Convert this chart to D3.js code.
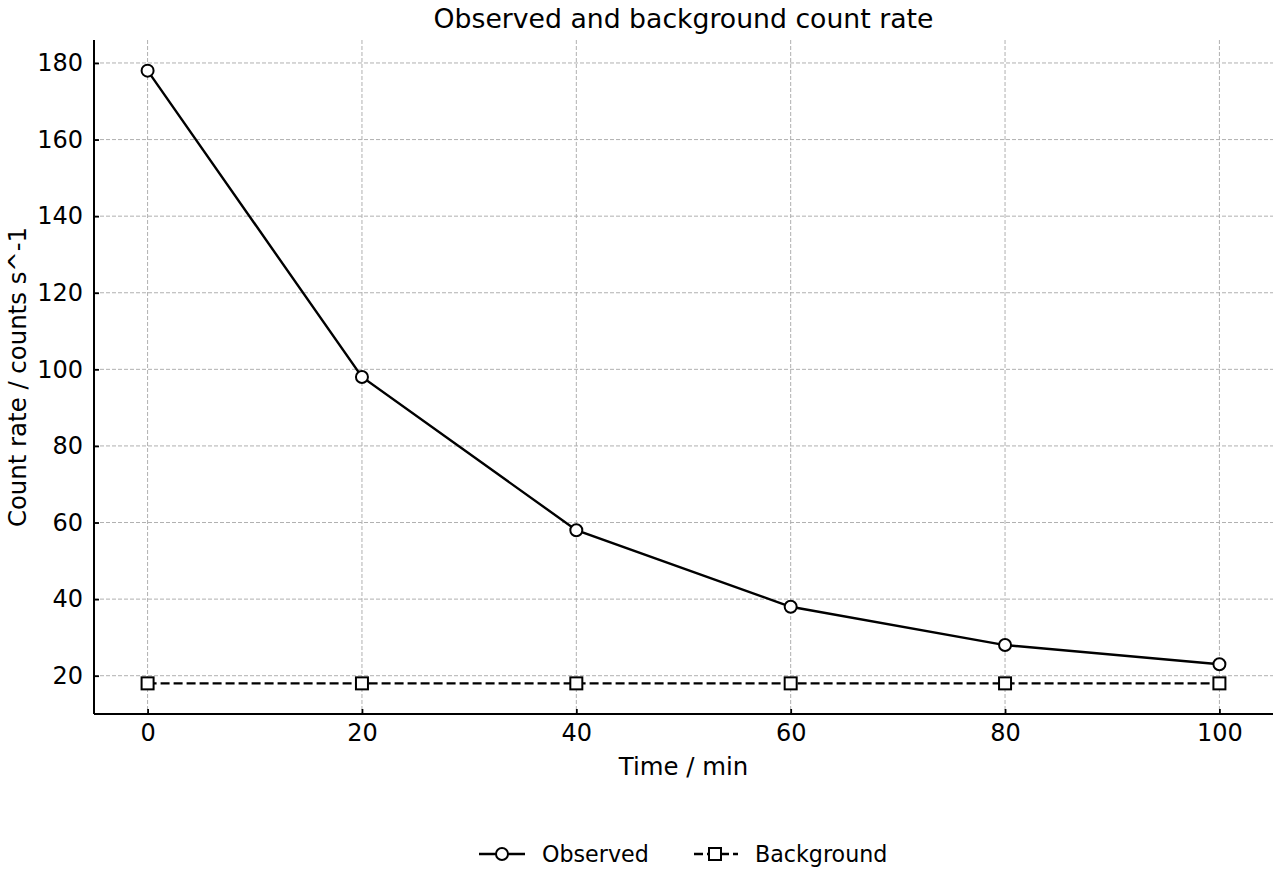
<!DOCTYPE html>
<html><head><meta charset="utf-8">
<script src="https://cdn.jsdelivr.net/npm/d3@7"></script>
<style>body{margin:0;background:#fff;} text{font-family:"DejaVu Sans",sans-serif;fill:#000;}</style>
</head><body>
<svg id="c" width="1280" height="880"></svg>
<script>
const times = [0, 20, 40, 60, 80, 100];
const observed = [178, 98, 58, 38, 28, 23];
const background = [18, 18, 18, 18, 18, 18];
const xTicks = [0, 20, 40, 60, 80, 100];
const yTicks = [20, 40, 60, 80, 100, 120, 140, 160, 180];
const seriesNames = ["Observed", "Background"];

const svg = d3.select("#c");
const L = 94, R = 1273, T = 40, B = 714;
const x = d3.scaleLinear().domain([-5, 105]).range([L, R]);
const y = d3.scaleLinear().domain([10, 186]).range([B, T]);
const tickFs = 24, labelFs = 24.4, titleFs = 26.7, legFs = 22.2;
const lw = 2.4, mw = 2, mr = 6, ms = 12;

// grid
const g = svg.append("g");
g.selectAll(".gx").data(xTicks).enter().append("line")
  .attr("x1", d => x(d)).attr("x2", d => x(d)).attr("y1", T).attr("y2", B)
  .attr("stroke", "#b0b0b0").attr("stroke-width", 1).attr("stroke-dasharray", "4,2");
g.selectAll(".gy").data(yTicks).enter().append("line")
  .attr("y1", d => y(d)).attr("y2", d => y(d)).attr("x1", L).attr("x2", R)
  .attr("stroke", "#b0b0b0").attr("stroke-width", 1).attr("stroke-dasharray", "4,2");

// axes
const xAxis = d3.axisBottom(x).tickValues(xTicks).tickSizeInner(-5).tickSizeOuter(0).tickPadding(10);
const yAxis = d3.axisLeft(y).tickValues(yTicks).tickSizeInner(-5).tickSizeOuter(0).tickPadding(11);
const gx = svg.append("g").attr("transform", `translate(0,${B})`).call(xAxis);
const gy = svg.append("g").attr("transform", `translate(${L},0)`).call(yAxis);
[gx, gy].forEach(a => {
  a.select(".domain").attr("stroke", "#000").attr("stroke-width", 2);
  a.selectAll(".tick line").attr("stroke", "#000").attr("stroke-width", 1.8);
  a.selectAll(".tick text").style("font-size", tickFs + "px").style("font-family", "DejaVu Sans").attr("fill", "#000");
});
gx.select(".domain").attr("d", `M${L},0H${R}`);
gy.select(".domain").attr("d", `M0,${T}V${B}`);

// lines
const line = d3.line().x(d => x(d[0])).y(d => y(d[1]));
const obs = times.map((t, i) => [t, observed[i]]);
const bg = times.map((t, i) => [t, background[i]]);
svg.append("path").datum(obs).attr("d", line).attr("fill", "none").attr("stroke", "#000").attr("stroke-width", lw);
svg.append("path").datum(bg).attr("d", line).attr("fill", "none").attr("stroke", "#000").attr("stroke-width", lw).attr("stroke-dasharray", "9,4");
svg.selectAll(".mo").data(obs).enter().append("circle")
  .attr("cx", d => x(d[0])).attr("cy", d => y(d[1])).attr("r", mr)
  .attr("fill", "#fff").attr("stroke", "#000").attr("stroke-width", mw);
svg.selectAll(".mb").data(bg).enter().append("rect")
  .attr("x", d => x(d[0]) - ms / 2).attr("y", d => y(d[1]) - ms / 2).attr("width", ms).attr("height", ms)
  .attr("fill", "#fff").attr("stroke", "#000").attr("stroke-width", mw);

// title & labels
svg.append("text").attr("x", (L + R) / 2).attr("y", 28).attr("text-anchor", "middle").style("font-size", titleFs + "px").text("Observed and background count rate");
svg.append("text").attr("x", (L + R) / 2).attr("y", 775).attr("text-anchor", "middle").style("font-size", labelFs + "px").text("Time / min");
svg.append("text").attr("transform", `translate(26,${(T + B) / 2}) rotate(-90)`).attr("text-anchor", "middle").style("font-size", labelFs + "px").text("Count rate / counts s^-1");

// legend
const ly = 854;
const leg = svg.append("g");
leg.append("line").attr("x1", 479).attr("x2", 525).attr("y1", ly).attr("y2", ly).attr("stroke", "#000").attr("stroke-width", lw);
leg.append("circle").attr("cx", 502).attr("cy", ly).attr("r", mr).attr("fill", "#fff").attr("stroke", "#000").attr("stroke-width", mw);
leg.append("text").attr("x", 542).attr("y", ly + 8).style("font-size", legFs + "px").text(seriesNames[0]);
leg.append("line").attr("x1", 694).attr("x2", 738).attr("y1", ly).attr("y2", ly).attr("stroke", "#000").attr("stroke-width", lw).attr("stroke-dasharray", "9,4");
leg.append("rect").attr("x", 715 - ms / 2).attr("y", ly - ms / 2).attr("width", ms).attr("height", ms).attr("fill", "#fff").attr("stroke", "#000").attr("stroke-width", mw);
leg.append("text").attr("x", 755).attr("y", ly + 8).style("font-size", legFs + "px").text(seriesNames[1]);
</script>
</body></html>
